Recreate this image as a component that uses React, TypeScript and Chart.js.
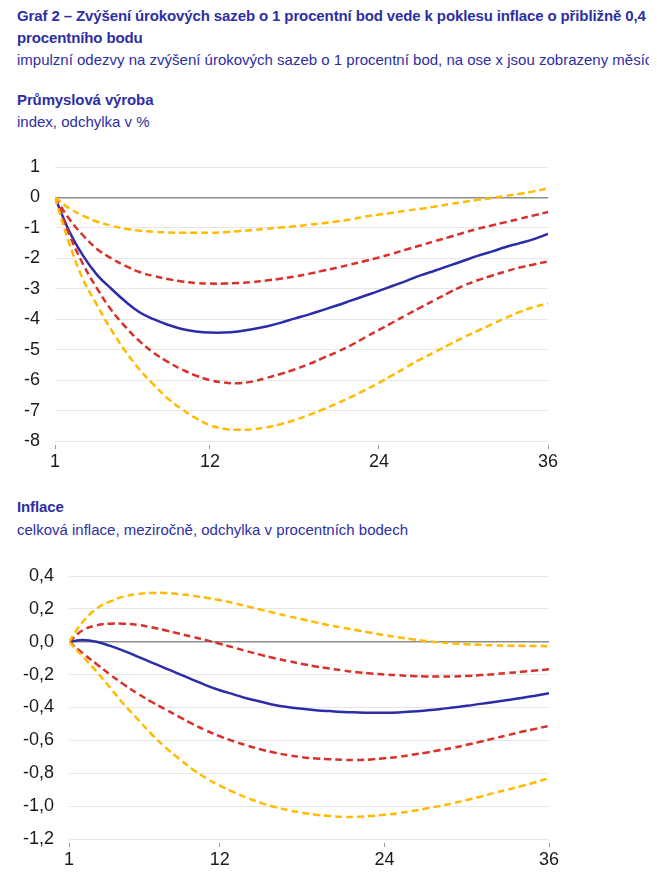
import React, { useEffect, useRef } from "react";
import { Chart, registerables } from "chart.js";

Chart.register(...registerables);

const months = [1, 2, 3, 4, 5, 6, 7, 8, 9, 10, 11, 12, 13, 14, 15, 16, 17, 18, 19, 20, 21, 22, 23, 24, 25, 26, 27, 28, 29, 30, 31, 32, 33, 34, 35, 36];
const xTickValues = [1, 12, 24, 36];

// Průmyslová výroba
const ipMedian = [0, -1.1, -1.92, -2.55, -3.0, -3.42, -3.77, -4.0, -4.18, -4.32, -4.4, -4.44, -4.44, -4.4, -4.33, -4.24, -4.12, -3.98, -3.85, -3.7, -3.55, -3.39, -3.23, -3.07, -2.9, -2.73, -2.55, -2.4, -2.24, -2.08, -1.92, -1.78, -1.63, -1.5, -1.37, -1.2];
const ipUpper90 = [0, -0.35, -0.6, -0.8, -0.93, -1.03, -1.09, -1.13, -1.15, -1.16, -1.16, -1.16, -1.14, -1.11, -1.07, -1.03, -0.99, -0.95, -0.9, -0.85, -0.79, -0.72, -0.63, -0.56, -0.5, -0.43, -0.37, -0.3, -0.22, -0.15, -0.08, -0.02, 0.05, 0.12, 0.2, 0.3];
const ipUpper68 = [0, -0.7, -1.25, -1.7, -2.0, -2.25, -2.45, -2.58, -2.68, -2.76, -2.81, -2.83, -2.83, -2.81, -2.78, -2.73, -2.67, -2.6, -2.51, -2.41, -2.31, -2.2, -2.09, -1.97, -1.84, -1.7, -1.57, -1.43, -1.3, -1.16, -1.03, -0.92, -0.81, -0.7, -0.59, -0.48];
const ipLower68 = [0, -1.2, -2.2, -3.0, -3.7, -4.25, -4.72, -5.1, -5.4, -5.65, -5.85, -6.0, -6.08, -6.1, -6.05, -5.93, -5.8, -5.65, -5.48, -5.28, -5.08, -4.86, -4.6, -4.35, -4.1, -3.85, -3.6, -3.36, -3.12, -2.9, -2.72, -2.57, -2.43, -2.3, -2.2, -2.1];
const ipLower90 = [0, -1.5, -2.7, -3.55, -4.35, -5.05, -5.65, -6.15, -6.6, -6.95, -7.25, -7.48, -7.6, -7.63, -7.62, -7.55, -7.45, -7.32, -7.15, -6.97, -6.77, -6.56, -6.33, -6.09, -5.83, -5.56, -5.3, -5.07, -4.83, -4.6, -4.38, -4.17, -3.96, -3.76, -3.6, -3.48];

// Inflace
const infMedian = [0, 0.01, 0.0, -0.025, -0.055, -0.09, -0.125, -0.16, -0.195, -0.23, -0.265, -0.295, -0.32, -0.345, -0.365, -0.385, -0.398, -0.408, -0.416, -0.422, -0.427, -0.43, -0.432, -0.432, -0.43, -0.425, -0.418, -0.41, -0.4, -0.39, -0.378, -0.366, -0.354, -0.342, -0.328, -0.313];
const infUpper90 = [0, 0.12, 0.2, 0.245, 0.275, 0.29, 0.297, 0.297, 0.29, 0.28, 0.268, 0.253, 0.235, 0.215, 0.195, 0.175, 0.155, 0.137, 0.118, 0.1, 0.085, 0.07, 0.055, 0.04, 0.027, 0.015, 0.005, -0.004, -0.01, -0.015, -0.019, -0.022, -0.024, -0.025, -0.026, -0.027];
const infUpper68 = [0, 0.07, 0.1, 0.11, 0.11, 0.103, 0.088, 0.07, 0.05, 0.03, 0.01, -0.012, -0.035, -0.058, -0.08, -0.1, -0.118, -0.135, -0.15, -0.163, -0.175, -0.185, -0.193, -0.199, -0.204, -0.208, -0.211, -0.212, -0.211, -0.208, -0.203, -0.197, -0.19, -0.183, -0.175, -0.168];
const infLower68 = [0, -0.07, -0.135, -0.2, -0.26, -0.315, -0.365, -0.41, -0.455, -0.5, -0.54, -0.575, -0.605, -0.632, -0.655, -0.675, -0.69, -0.702, -0.71, -0.715, -0.718, -0.72, -0.716, -0.709, -0.7, -0.688, -0.675, -0.66, -0.645, -0.627, -0.608, -0.588, -0.568, -0.548, -0.53, -0.512];
const infLower90 = [0, -0.09, -0.18, -0.28, -0.38, -0.47, -0.56, -0.64, -0.71, -0.775, -0.83, -0.875, -0.915, -0.95, -0.98, -1.005, -1.025, -1.04, -1.052, -1.06, -1.065, -1.065, -1.06, -1.053, -1.043, -1.03, -1.015, -1.0, -0.982, -0.963, -0.943, -0.92, -0.9, -0.878, -0.855, -0.83];

const BLUE = "#2b2ca8";
const RED = "#d8302a";
const YELLOW = "#ffbb00";
const TEXT_BLUE = "#2e2ea3";
const FONT = "'Liberation Sans', Arial, sans-serif";

type Cfg = {
  median: number[];
  u68: number[];
  l68: number[];
  u90: number[];
  l90: number[];
  yMin: number;
  yMax: number;
  step: number;
  fmt: (v: number) => string;
  yWidth: number;
  padTop: number;
  padRight: number;
};

function LineChart(props: Cfg & { style: React.CSSProperties; width: number; height: number }) {
  const ref = useRef<HTMLCanvasElement | null>(null);
  useEffect(() => {
    if (!ref.current) return;
    const mk = (vals: number[]) => months.map((m, i) => ({ x: m, y: vals[i] }));
    const dashed = (label: string, vals: number[], color: string) => ({
      label,
      data: mk(vals),
      borderColor: color,
      borderWidth: 2.5,
      borderDash: [7, 4],
      pointRadius: 0,
      tension: 0.4,
      fill: false,
    });
    const chart = new Chart(ref.current, {
      type: "line",
      data: {
        datasets: [
          dashed("90% horní", props.u90, YELLOW),
          dashed("90% dolní", props.l90, YELLOW),
          dashed("68% horní", props.u68, RED),
          dashed("68% dolní", props.l68, RED),
          {
            label: "medián",
            data: mk(props.median),
            borderColor: BLUE,
            borderWidth: 2.5,
            pointRadius: 0,
            tension: 0.4,
            fill: false,
          },
        ],
      },
      options: {
        animation: false,
        responsive: false,
        maintainAspectRatio: false,
        layout: { padding: { top: props.padTop, right: props.padRight, left: 0, bottom: 0 } },
        plugins: { legend: { display: false }, tooltip: { enabled: false } },
        scales: {
          x: {
            type: "linear",
            min: 1,
            max: 36,
            afterBuildTicks: (s: any) => {
              s.ticks = xTickValues.map((v) => ({ value: v }));
            },
            afterFit: (s: any) => {
              s.height = 39;
              s.paddingLeft = 0;
              s.paddingRight = 0;
            },
            border: { display: false },
            grid: {
              drawOnChartArea: false,
              drawTicks: true,
              tickLength: 8,
              tickColor: "#9a9a9a",
              tickWidth: 1,
              tickBorderDash: [0, 4, 4, 100],
            },
            ticks: {
              autoSkip: false,
              maxRotation: 0,
              padding: 2,
              color: "#1a1a1a",
              font: { family: FONT, size: 18 },
              callback: (v: any) => String(v),
            },
          },
          y: {
            min: props.yMin,
            max: props.yMax,
            afterFit: (s: any) => {
              s.width = props.yWidth;
              s.paddingTop = 0;
              s.paddingBottom = 0;
            },
            border: { display: false },
            grid: {
              drawTicks: false,
              color: (c: any) => (Math.abs(c.tick.value) < 1e-9 ? "#8c8c8c" : "#e6e6e6"),
              lineWidth: (c: any) => (Math.abs(c.tick.value) < 1e-9 ? 1.5 : 1),
            },
            ticks: {
              stepSize: props.step,
              padding: 15,
              color: "#1a1a1a",
              font: { family: FONT, size: 18 },
              callback: (v: any) => props.fmt(Number(v)),
            },
          },
        },
      } as any,
    });
    return () => chart.destroy();
  }, []);
  return <canvas ref={ref} width={props.width} height={props.height} style={{ ...props.style, width: props.width, height: props.height }} />;
}

const intFmt = (v: number) => String(Math.round(v));
const decFmt = (v: number) => {
  const x = Math.abs(v) < 1e-9 ? 0 : v;
  return x.toFixed(1).replace(".", ",");
};

const textBase: React.CSSProperties = {
  position: "absolute",
  left: 9,
  fontFamily: FONT,
  fontSize: 15,
  lineHeight: "17px",
  color: TEXT_BLUE,
  whiteSpace: "nowrap",
};

export default function App() {
  return (
    <div style={{ position: "relative", width: 649, height: 885, overflow: "hidden" }}>
      <div style={{ ...textBase, top: -1, fontWeight: "bold", letterSpacing: "-0.12px" }}>
        Graf 2 – Zvýšení úrokových sazeb o 1 procentní bod vede k poklesu inflace o přibližně 0,4
      </div>
      <div style={{ ...textBase, top: 21, fontWeight: "bold", letterSpacing: "-0.12px" }}>procentního bodu</div>
      <div style={{ ...textBase, top: 43.3 }}>
        impulzní odezvy na zvýšení úrokových sazeb o 1 procentní bod, na ose x jsou zobrazeny měsíce
      </div>
      <div style={{ ...textBase, top: 83, fontWeight: "bold", letterSpacing: "-0.12px" }}>Průmyslová výroba</div>
      <div style={{ ...textBase, top: 104.6 }}>index, odchylka v %</div>
      <LineChart
        style={{ position: "absolute", left: 0, top: 142 }}
        width={580}
        height={330}
        median={ipMedian}
        u68={ipUpper68}
        l68={ipLower68}
        u90={ipUpper90}
        l90={ipLower90}
        yMin={-8}
        yMax={1}
        step={1}
        fmt={intFmt}
        yWidth={47}
        padTop={17}
        padRight={40}
      />
      <div style={{ ...textBase, top: 490, fontWeight: "bold", letterSpacing: "-0.12px" }}>Inflace</div>
      <div style={{ ...textBase, top: 512.6 }}>celková inflace, meziročně, odchylka v procentních bodech</div>
      <LineChart
        style={{ position: "absolute", left: 0, top: 552 }}
        width={580}
        height={318}
        median={infMedian}
        u68={infUpper68}
        l68={infLower68}
        u90={infUpper90}
        l90={infLower90}
        yMin={-1.2}
        yMax={0.4}
        step={0.2}
        fmt={decFmt}
        yWidth={61}
        padTop={16}
        padRight={39}
      />
    </div>
  );
}
